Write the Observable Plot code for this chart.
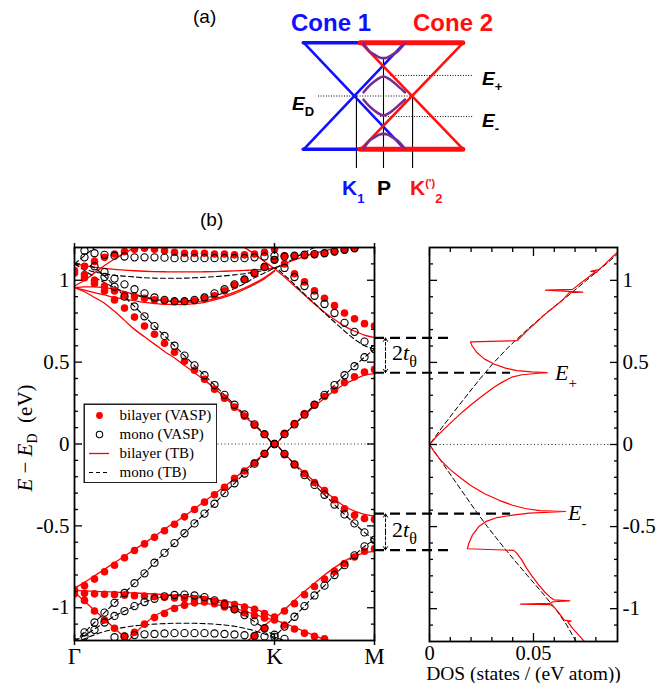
<!DOCTYPE html>
<html>
<head>
<meta charset="utf-8">
<script src="https://cdn.jsdelivr.net/npm/d3@7"></script>
<script src="https://cdn.jsdelivr.net/npm/@observablehq/plot@0.6"></script>
<style>
  html, body { margin: 0; padding: 0; background: white; }
  #root { position: relative; width: 667px; height: 683px; background: white; overflow: hidden; }
  #root > svg, #root > figure { position: absolute; margin: 0; }
  .lbl { position: absolute; line-height: 1; white-space: nowrap; }
</style>
</head>
<body>
<div id="root"></div>
<script>
// ---------------- DATA ----------------
// k path: Gamma = 0, K = 1, M = 1.5
const kGrid = [0,0.05,0.1,0.15,0.2,0.25,0.3,0.35,0.4,0.45,0.5,0.55,0.6,0.65,0.7,0.75,0.8,0.85,0.9,0.95,1,1.05,1.1,1.15,1.2,1.25,1.3,1.35,1.4,1.45,1.5];
const kTicks = [0, 1, 1.5];
const kTickLabels = ["Γ", "K", "M"];
const yMajor = [-1, -0.5, 0, 0.5, 1];
const yTickLabels = ["-1", "-0.5", "0", "0.5", "1"];
const yMinor = [-1.1,-0.9,-0.8,-0.7,-0.6,-0.4,-0.3,-0.2,-0.1,0.1,0.2,0.3,0.4,0.6,0.7,0.8,0.9,1.1];

// bilayer (VASP) – red dots
const bvDirUp = [1.045,1.015,0.98,0.935,0.88,0.83,0.775,0.72,0.67,0.615,0.56,0.505,0.45,0.395,0.335,0.28,0.225,0.17,0.115,0.058,0,0.065,0.125,0.185,0.24,0.29,0.33,0.375,0.41,0.44,0.455];
const bvMid = [1.06,1.035,1.0,0.965,0.935,0.91,0.9,0.89,0.88,0.875,0.87,0.87,0.875,0.89,0.905,0.935,0.97,1.005,1.04,1.085,1.125,1.1,1.04,0.99,0.935,0.89,0.845,0.8,0.765,0.735,0.72];
const bvTop = [null,1.085,1.115,1.14,1.16,1.175,1.19,1.195,1.19,1.18,1.17,1.165,1.165,1.165,1.16,1.16,1.155,1.155,1.16,1.17,1.19,1.15,1.145,1.15,1.155,1.165,1.175,1.185,1.195,null,null];
const bvDirDn = [-0.89,-0.865,-0.825,-0.78,-0.74,-0.695,-0.65,-0.61,-0.57,-0.53,-0.49,-0.445,-0.4,-0.355,-0.31,-0.265,-0.21,-0.165,-0.115,-0.058,0,-0.065,-0.125,-0.18,-0.235,-0.285,-0.34,-0.395,-0.435,-0.455,-0.46];
const bvFlat = [-0.915,-0.912,-0.915,-0.918,-0.92,-0.923,-0.926,-0.929,-0.932,-0.936,-0.94,-0.943,-0.946,-0.95,-0.96,-0.97,-0.98,-0.995,-1.01,-1.035,-1.057,-1.02,-0.975,-0.92,-0.87,-0.825,-0.778,-0.73,-0.69,-0.655,-0.64];
const bvRise = [null,null,null,null,null,null,-1.15,-1.1,-1.06,-1.035,-1.005,-0.985,-0.97,-0.965,-0.975,-0.995,-1.01,-1.03,-1.048,-1.063,-1.075,-1.105,-1.13,-1.155,-1.175,-1.19,null,null,null,null,null];
const bvCross = [null,-0.955,-1.02,-1.075,-1.125,-1.175,null,null,null,null,null,null,null,null,null,null,null,null,null,null,null,null,null,null,null,null,null,null,null,null,null];
const bvLowK = [null,null,null,null,null,null,null,null,null,null,null,null,null,null,null,null,null,null,-1.175,-1.125,null,null,null,null,null,null,null,null,null,null,null];

// mono (VASP) – open circles
const mvDirUp = [null,1.14,1.085,1.02,0.96,0.9,0.84,0.78,0.72,0.66,0.6,0.54,0.48,0.42,0.36,0.3,0.24,0.18,0.12,0.06,0,0.06,0.12,0.18,0.24,0.3,0.36,0.42,0.475,0.53,0.58];
const mvMid = [null,null,null,1.05,1.01,0.975,0.945,0.92,0.895,0.88,0.872,0.872,0.88,0.895,0.92,0.945,0.975,1.005,1.045,1.08,1.125,1.075,1.02,0.965,0.905,0.855,0.8,0.74,0.685,0.625,0.58];
const mvTop = [null,1.18,1.165,1.155,1.15,1.145,1.14,1.14,1.14,1.138,1.135,1.135,1.135,1.135,1.135,1.135,1.135,1.135,1.14,1.145,1.15,1.145,1.15,1.156,1.16,1.165,1.175,1.186,1.195,null,null];
const mvDirDn = [-1.21,-1.15,-1.09,-1.03,-0.97,-0.91,-0.85,-0.79,-0.725,-0.665,-0.605,-0.545,-0.485,-0.425,-0.365,-0.3,-0.24,-0.18,-0.12,-0.06,0,-0.06,-0.125,-0.19,-0.25,-0.31,-0.37,-0.43,-0.485,-0.54,-0.585];
const mvLow = [null,-1.175,-1.135,-1.09,-1.05,-1.02,-0.99,-0.965,-0.945,-0.93,-0.922,-0.92,-0.925,-0.935,-0.955,-0.98,-1.01,-1.045,-1.085,-1.125,-1.165,-1.115,-1.055,-0.99,-0.925,-0.865,-0.8,-0.74,-0.68,-0.625,-0.585];
const mvBot = [null,null,null,null,-1.18,-1.175,-1.167,-1.162,-1.16,-1.157,-1.155,-1.155,-1.155,-1.155,-1.157,-1.16,-1.163,-1.168,-1.172,-1.175,-1.178,-1.19,null,null,null,null,null,null,null,null,null];

// bilayer (TB) – red lines
const tbDirUp = [0.955,0.93,0.895,0.86,0.81,0.755,0.7,0.655,0.61,0.565,0.525,0.48,0.435,0.39,0.34,0.285,0.23,0.17,0.115,0.057,0,0.06,0.12,0.175,0.23,0.28,0.325,0.365,0.395,0.42,0.43];
const tbMidA = [0.955,0.94,0.925,0.91,0.895,0.885,0.875,0.865,0.858,0.853,0.852,0.853,0.857,0.865,0.88,0.897,0.918,0.945,0.975,1.01,1.055,null,null,null,null,null,null,null,null,null,null];
const tbMidB = [0.955,0.96,0.96,0.955,0.945,0.93,0.915,0.9,0.885,0.875,0.868,0.866,0.868,0.875,0.888,0.905,0.927,0.952,0.982,1.017,1.06,null,null,null,null,null,null,null,null,null,null];
const tbRiseUp = [0.965,1.0,1.045,1.09,1.13,1.165,1.2,1.235,null,null,null,null,null,null,null,null,null,null,null,null,null,null,null,null,null,null,null,null,null,null,null];
const tbFlatUp = [1.1,1.09,1.08,1.072,1.066,1.062,1.058,1.055,1.053,1.052,1.051,1.051,1.051,1.052,1.053,1.055,1.057,1.06,1.063,1.068,1.075,1.1,1.125,1.145,1.165,1.18,1.195,1.21,null,null,null];
const tbSteep = [null,null,null,null,null,null,null,null,null,null,null,null,null,null,null,null,1.24,1.2,1.16,1.115,1.07,1.02,0.965,0.91,0.855,0.805,0.76,0.72,0.69,0.665,0.65];
const tbDirDn = [-0.88,-0.845,-0.805,-0.765,-0.725,-0.685,-0.645,-0.605,-0.565,-0.52,-0.48,-0.44,-0.395,-0.35,-0.305,-0.26,-0.21,-0.16,-0.11,-0.055,0,-0.06,-0.12,-0.175,-0.23,-0.285,-0.335,-0.38,-0.41,-0.43,-0.44];
const tbFlatDn = [-0.895,-0.897,-0.9,-0.902,-0.905,-0.907,-0.91,-0.913,-0.916,-0.92,-0.925,-0.93,-0.935,-0.942,-0.95,-0.96,-0.972,-0.988,-1.007,-1.03,-1.057,-1.01,-0.955,-0.9,-0.85,-0.8,-0.755,-0.715,-0.685,-0.665,-0.655];
const tbRiseDn = [null,null,null,null,null,-1.23,-1.16,-1.1,-1.05,-1.02,-0.995,-0.98,-0.975,-0.975,-0.98,-0.99,-1.005,-1.02,-1.04,-1.06,-1.075,-1.095,-1.12,-1.145,-1.17,-1.195,-1.22,null,null,null,null];
const tbCross = [-0.905,-0.96,-1.015,-1.07,-1.125,-1.18,-1.235,null,null,null,null,null,null,null,null,null,null,null,null,null,null,null,null,null,null,null,null,null,null,null,null];
const tbLowK = [null,null,null,null,null,null,null,null,null,null,null,null,null,null,null,null,null,-1.22,-1.165,-1.11,-1.06,null,null,null,null,null,null,null,null,null,null];

// mono (TB) – dashed lines
const mtDirUp = [1.1,1.1,1.075,1.025,0.965,0.9,0.84,0.78,0.72,0.66,0.6,0.54,0.48,0.42,0.36,0.3,0.24,0.18,0.12,0.06,0,0.06,0.12,0.18,0.24,0.3,0.36,0.42,0.475,0.53,0.58];
const mtMid = [1.1,1.06,1.02,0.985,0.955,0.93,0.91,0.895,0.882,0.875,0.872,0.873,0.878,0.89,0.905,0.925,0.95,0.98,1.015,1.045,1.075,1.1,1.135,1.17,1.2,1.23,null,null,null,null,null];
const mtFlat = [1.1,1.07,1.05,1.04,1.03,1.025,1.02,1.015,1.013,1.012,1.012,1.013,1.015,1.018,1.022,1.027,1.033,1.04,1.05,1.06,1.075,1.03,0.975,0.915,0.86,0.8,0.745,0.69,0.64,0.6,0.58];
const mtRiseUp = [1.1,1.15,1.2,1.25,null,null,null,null,null,null,null,null,null,null,null,null,null,null,null,null,null,null,null,null,null,null,null,null,null,null,null];
const mtDirDn = [-1.21,-1.15,-1.09,-1.03,-0.97,-0.91,-0.85,-0.79,-0.725,-0.665,-0.605,-0.545,-0.485,-0.425,-0.365,-0.3,-0.24,-0.18,-0.12,-0.06,0,-0.06,-0.125,-0.19,-0.25,-0.31,-0.37,-0.43,-0.485,-0.54,-0.585];
const mtLow = [-1.2,-1.17,-1.13,-1.09,-1.05,-1.02,-0.99,-0.965,-0.945,-0.93,-0.922,-0.92,-0.925,-0.935,-0.955,-0.98,-1.01,-1.045,-1.085,-1.125,-1.165,-1.115,-1.055,-0.99,-0.925,-0.865,-0.8,-0.74,-0.68,-0.625,-0.585];
const mtBot = [-1.21,-1.19,-1.165,-1.145,-1.13,-1.12,-1.11,-1.105,-1.1,-1.097,-1.095,-1.095,-1.095,-1.097,-1.1,-1.105,-1.113,-1.125,-1.14,-1.16,-1.18,-1.2,-1.22,null,null,null,null,null,null,null,null];

// DOS, mono (TB) dashed
const dosMonoE = [-1.2,-1.1,-1.0,-0.9,-0.8,-0.7,-0.6,-0.5,-0.4,-0.3,-0.2,-0.1,0,0.1,0.2,0.3,0.4,0.5,0.6,0.7,0.8,0.9,1.0,1.1,1.2];
const dosMonoD = [0.0705,0.066,0.0605,0.054,0.0472,0.0405,0.034,0.0278,0.022,0.0165,0.011,0.0055,0,0.0058,0.0118,0.018,0.0243,0.031,0.0385,0.047,0.056,0.066,0.0755,0.085,0.094];
// DOS, bilayer (TB) red, in drawing order
const dosBiE = [-1.2,-1.12,-1.08,-1.075,-1.07,-1.03,-0.985,-0.975,-0.972,-0.968,-0.958,-0.952,-0.946,-0.93,-0.9,-0.85,-0.8,-0.75,-0.7,-0.66,-0.645,-0.635,-0.6,-0.55,-0.5,-0.47,-0.445,-0.43,-0.418,-0.408,-0.403,-0.39,-0.37,-0.34,-0.3,-0.25,-0.2,-0.15,-0.1,-0.05,0,0.05,0.1,0.15,0.2,0.25,0.3,0.35,0.38,0.41,0.425,0.434,0.438,0.442,0.45,0.465,0.49,0.52,0.56,0.6,0.625,0.632,0.7,0.8,0.88,0.925,0.928,0.933,0.94,0.945,1.0,1.04,1.05,1.055,1.065,1.1,1.15,1.2];
const dosBiD = [0.0745,0.0688,0.0665,0.0682,0.0648,0.0625,0.0595,0.0578,0.0438,0.0578,0.0595,0.0675,0.0598,0.058,0.0555,0.0522,0.0492,0.0465,0.0442,0.0418,0.0405,0.0182,0.019,0.0207,0.0237,0.027,0.0325,0.04,0.048,0.0654,0.053,0.046,0.04,0.0335,0.0265,0.0198,0.0145,0.0097,0.0057,0.0025,0,0.0035,0.0075,0.0117,0.016,0.0207,0.0258,0.0312,0.035,0.0395,0.0445,0.0525,0.0566,0.049,0.042,0.0365,0.031,0.0265,0.0228,0.0205,0.0197,0.0421,0.0475,0.0562,0.064,0.0672,0.0737,0.0668,0.0558,0.0688,0.0745,0.0785,0.0805,0.0775,0.0815,0.0845,0.0885,0.093];
const dosTickMajor = [0, 0.05];
const dosTickLabels = ["0", "0.05"];
const dosTickMinor = [0.01,0.02,0.03,0.04,0.06,0.07,0.08];

// 2t_theta gap levels (eV)
const gapShort = [0.648, -0.648];
const gapLong = [0.435, -0.425];
const gapMid = [0.5415, -0.5365];

// legend
const legendLabels = ["bilayer (VASP)", "mono (VASP)", "bilayer (TB)", "mono (TB)"];

// schematic (a): cone lines in (x, E) units
const coneBlue = [{x1:-2.8,y1:1,x2:0.75,y2:-1},{x1:0.75,y1:1,x2:-2.8,y2:-1}];
const coneRed = [{x1:-0.8,y1:1,x2:2.8,y2:-1},{x1:2.8,y1:1,x2:-0.8,y2:-1}];
const rimBlue = [{E:1,x1:-2.8,x2:0.75},{E:-1,x1:-2.8,x2:0.75}];
const rimRed = [{E:1,x1:-0.8,x2:2.8},{E:-1,x1:-0.8,x2:2.8}];
const purpleX = [-0.7,-0.5,-0.3,-0.15,0,0.15,0.3,0.5,0.75];
const purpleTop = [0.99,0.84,0.77,0.725,0.71,0.725,0.77,0.84,0.99];
const purpleUp = [0.07,0.19,0.28,0.335,0.365,0.335,0.28,0.19,0.07];
const purpleDn = [-0.07,-0.19,-0.28,-0.335,-0.365,-0.335,-0.28,-0.19,-0.07];
const purpleBot = [-0.99,-0.84,-0.77,-0.725,-0.71,-0.725,-0.77,-0.84,-0.99];
const schemLevels = [{E:0,x1:-2.28,x2:1.05},{E:0.385,x1:0.25,x2:3.15},{E:-0.385,x1:-0.1,x2:3.15}];
const schemVerticals = [{x:-0.95,E1:0,E2:-1.36},{x:0,E1:0.7,E2:-1.36},{x:1.02,E1:0,E2:-1.36}];

// ---------------- BUILD ----------------
const serif = "'Liberation Serif','Times New Roman',Times,serif";
const sans = "'Liberation Sans',Arial,Helvetica,sans-serif";
const root = document.getElementById("root");

function rows(name, values) {
  return values.map((E, i) => ({band: name, k: kGrid[i], E})).filter(d => d.E !== null);
}
const redDots = [].concat(rows("a", bvDirUp), rows("b", bvMid), rows("c", bvTop), rows("d", bvDirDn),
  rows("e", bvFlat), rows("f", bvRise), rows("g", bvCross), rows("h", bvLowK));
const openDots = [].concat(rows("a", mvDirUp), rows("b", mvMid), rows("c", mvTop), rows("d", mvDirDn),
  rows("e", mvLow), rows("f", mvBot));
const redLines = [].concat(rows("a", tbDirUp), rows("b", tbMidA), rows("c", tbMidB), rows("d", tbRiseUp),
  rows("e", tbFlatUp), rows("f", tbSteep), rows("g", tbDirDn), rows("h", tbFlatDn), rows("i", tbRiseDn),
  rows("j", tbCross), rows("k", tbLowK));
const dashLines = [].concat(rows("a", mtDirUp), rows("b", mtMid), rows("c", mtFlat), rows("d", mtRiseUp),
  rows("e", mtDirDn), rows("f", mtLow), rows("g", mtBot));

function place(el, left, top) {
  el.style.left = left + "px";
  el.style.top = top + "px";
  root.appendChild(el);
}
const noText = () => "";

// ---- schematic (a)
const schem = Plot.plot({
  width: 210, height: 200,
  marginLeft: 17.5, marginRight: 21.5, marginTop: 15.5, marginBottom: 24.5,
  x: {domain: [-3, 3], axis: null},
  y: {domain: [-1.5, 1.5], axis: null},
  style: {background: "transparent", overflow: "visible"},
  marks: [
    Plot.ruleX(schemVerticals, {x: "x", y1: "E1", y2: "E2", stroke: "black", strokeWidth: 1.1}),
    Plot.ruleY(schemLevels, {y: "E", x1: "x1", x2: "x2", stroke: "black", strokeWidth: 1, strokeDasharray: "1,1.6"}),
    Plot.link(coneBlue, {x1: "x1", y1: "y1", x2: "x2", y2: "y2", stroke: "#1010ff", strokeWidth: 2.6}),
    Plot.ruleY(rimBlue, {y: "E", x1: "x1", x2: "x2", stroke: "#1010ff", strokeWidth: 3.5, strokeLinecap: "round"}),
    Plot.link(coneRed, {x1: "x1", y1: "y1", x2: "x2", y2: "y2", stroke: "#ff1010", strokeWidth: 2.6}),
    Plot.ruleY(rimRed, {y: "E", x1: "x1", x2: "x2", stroke: "#ff1010", strokeWidth: 5, strokeLinecap: "round"}),
    Plot.line(purpleX, {x: d => d, y: (d, i) => purpleTop[i], stroke: "#7b2a8e", strokeWidth: 2.6, curve: "natural"}),
    Plot.line(purpleX, {x: d => d, y: (d, i) => purpleUp[i], stroke: "#7b2a8e", strokeWidth: 2.6, curve: "natural"}),
    Plot.line(purpleX, {x: d => d, y: (d, i) => purpleDn[i], stroke: "#7b2a8e", strokeWidth: 2.6, curve: "natural"}),
    Plot.line(purpleX, {x: d => d, y: (d, i) => purpleBot[i], stroke: "#7b2a8e", strokeWidth: 2.6, curve: "natural"})
  ]
});
place(schem, 280, 0);

// ---- DOS panel
const dosMono = dosMonoE.map((E, i) => ({E, D: dosMonoD[i]}));
const dosBi = dosBiE.map((E, i) => ({E, D: dosBiD[i]}));
const dos = Plot.plot({
  width: 267, height: 453,
  marginLeft: 29, marginRight: 50, marginTop: 17, marginBottom: 42,
  x: {domain: [0, 0.0904]},
  y: {domain: [-1.2, 1.2]},
  style: {background: "transparent", overflow: "visible", fontFamily: serif, color: "black"},
  marks: [
    Plot.ruleY([0], {stroke: "#333", strokeWidth: 1, strokeDasharray: "1,2.5"}),
    Plot.line(dosMono, {x: "D", y: "E", stroke: "black", strokeWidth: 1, strokeDasharray: "5,3", clip: true}),
    Plot.line(dosBi, {x: "D", y: "E", stroke: "red", strokeWidth: 1.2, clip: true}),
    Plot.frame({strokeWidth: 1.8}),
    Plot.axisX({ticks: dosTickMajor, anchor: "bottom", tickSize: 0, tickPadding: 4, fontSize: 20.5, label: null,
      tickFormat: d => dosTickLabels[dosTickMajor.indexOf(d)]}),
    Plot.axisX({ticks: dosTickMajor, anchor: "bottom", tickSize: -8, tickFormat: noText, label: null, strokeWidth: 1.3}),
    Plot.axisX({ticks: dosTickMinor, anchor: "bottom", tickSize: -4, tickFormat: noText, label: null, strokeWidth: 1.3}),
    Plot.axisX({ticks: dosTickMajor, anchor: "top", tickSize: -8, tickFormat: noText, label: null, strokeWidth: 1.3}),
    Plot.axisX({ticks: dosTickMinor, anchor: "top", tickSize: -4, tickFormat: noText, label: null, strokeWidth: 1.3}),
    Plot.axisY({ticks: yMajor, anchor: "right", tickSize: 0, tickPadding: 5, fontSize: 21, label: null,
      tickFormat: d => yTickLabels[yMajor.indexOf(d)]}),
    Plot.axisY({ticks: yMajor, anchor: "right", tickSize: -8, tickFormat: noText, label: null, strokeWidth: 1.3}),
    Plot.axisY({ticks: yMinor, anchor: "right", tickSize: -4, tickFormat: noText, label: null, strokeWidth: 1.3}),
    Plot.axisY({ticks: yMajor, anchor: "left", tickSize: -8, tickFormat: noText, label: null, strokeWidth: 1.3}),
    Plot.axisY({ticks: yMinor, anchor: "left", tickSize: -4, tickFormat: noText, label: null, strokeWidth: 1.3}),
    Plot.text(["DOS (states / (eV atom))"], {frameAnchor: "bottom", lineAnchor: "middle", dy: 32.5, fontSize: 19.5})
  ]
});
place(dos, 400, 230);

// ---- band panel
const band = Plot.plot({
  width: 540, height: 453,
  marginLeft: 74, marginRight: 166, marginTop: 17, marginBottom: 43,
  x: {domain: [0, 1.5]},
  y: {domain: [-1.2, 1.2]},
  style: {background: "transparent", overflow: "visible", fontFamily: serif, color: "black"},
  marks: [
    Plot.ruleY([0], {stroke: "#333", strokeWidth: 1, strokeDasharray: "1,2.5"}),
    Plot.line(redLines, {x: "k", y: "E", z: "band", stroke: "red", strokeWidth: 1.3, curve: "monotone-x", clip: true}),
    Plot.line(dashLines, {x: "k", y: "E", z: "band", stroke: "black", strokeWidth: 1.1, strokeDasharray: "5,3", curve: "monotone-x", clip: true}),
    Plot.dot(redDots, {x: "k", y: "E", r: 3.8, fill: "red", clip: true}),
    Plot.dot(openDots, {x: "k", y: "E", r: 3.6, stroke: "black", strokeWidth: 1.1, fill: "none", clip: true}),
    Plot.frame({strokeWidth: 1.8}),
    Plot.axisY({ticks: yMajor, anchor: "left", tickSize: 0, tickPadding: 5, fontSize: 21, label: null,
      tickFormat: d => yTickLabels[yMajor.indexOf(d)]}),
    Plot.axisY({ticks: yMajor, anchor: "left", tickSize: -8, tickFormat: noText, label: null, strokeWidth: 1.3}),
    Plot.axisY({ticks: yMinor, anchor: "left", tickSize: -4, tickFormat: noText, label: null, strokeWidth: 1.3}),
    Plot.axisY({ticks: yMajor, anchor: "right", tickSize: -8, tickFormat: noText, label: null, strokeWidth: 1.3}),
    Plot.axisY({ticks: yMinor, anchor: "right", tickSize: -4, tickFormat: noText, label: null, strokeWidth: 1.3}),
    Plot.axisX({ticks: kTicks, anchor: "bottom", tickSize: 0, tickPadding: 7, fontSize: 23, label: null,
      tickFormat: d => kTickLabels[kTicks.indexOf(d)]}),
    Plot.axisX({ticks: kTicks, anchor: "bottom", tickSize: 5, tickFormat: noText, label: null, strokeWidth: 1.5}),
    Plot.axisX({ticks: kTicks, anchor: "bottom", tickSize: -6, tickFormat: noText, label: null, strokeWidth: 1.5}),
    Plot.axisX({ticks: kTicks, anchor: "top", tickSize: 5, tickFormat: noText, label: null, strokeWidth: 1.5}),
    Plot.axisX({ticks: kTicks, anchor: "top", tickSize: -6, tickFormat: noText, label: null, strokeWidth: 1.5}),
    // 2 t_theta annotation
    Plot.ruleY(gapShort, {x1: 1.5, x2: 1.895, stroke: "black", strokeWidth: 2.2, strokeDasharray: "10,6"}),
    Plot.ruleY(gapLong, {x1: 1.5, x2: 2.18, stroke: "black", strokeWidth: 2.2, strokeDasharray: "10,6"}),
    Plot.arrow([0, 1, 2, 3], {x1: 1.555, x2: 1.555,
      y1: i => gapMid[i < 2 ? 0 : 1],
      y2: i => [gapShort[0], gapLong[0], gapLong[1], gapShort[1]][i],
      stroke: "black", strokeWidth: 1, strokeDasharray: "3,2", headLength: 6})
  ]
});
place(band, 0, 230);

// ---- legend
const legend = Plot.plot({
  width: 134, height: 80, margin: 0,
  x: {domain: [0, 134], axis: null},
  y: {type: "point", domain: legendLabels, range: [12, 69], padding: 0, axis: null},
  style: {background: "transparent", fontFamily: serif, color: "black"},
  marks: [
    Plot.frame({fill: "white", stroke: "black", strokeWidth: 1.3, inset: 0.7}),
    Plot.dot([legendLabels[0]], {x: 16, y: d => d, r: 3.4, fill: "red"}),
    Plot.dot([legendLabels[1]], {x: 16, y: d => d, r: 3.2, stroke: "black", strokeWidth: 1.1, fill: "none"}),
    Plot.ruleY([legendLabels[2]], {y: d => d, x1: 6, x2: 26, stroke: "red", strokeWidth: 1.3}),
    Plot.ruleY([legendLabels[3]], {y: d => d, x1: 6, x2: 26, stroke: "black", strokeWidth: 1.1, strokeDasharray: "4,3"}),
    Plot.text(legendLabels, {x: 36, y: d => d, textAnchor: "start", fontSize: 15})
  ]
});
place(legend, 83, 403);

// ---- text labels
function label(html, left, baseline, size, family, extra) {
  const d = document.createElement("div");
  d.className = "lbl";
  d.innerHTML = html;
  d.style.cssText += `font-size:${size}px;font-family:${family};${extra || ""}`;
  place(d, left, baseline - 0.84 * size);
  return d;
}
const sub = (t, s, dy) => `<span style="font-size:${s}px;position:relative;top:${dy}px;font-style:normal">${t}</span>`;

label("(a)", 193, 23, 19, sans);
label("(b)", 200, 226, 19, sans);
label("Cone 1", 291, 31.5, 24, sans, "font-weight:bold;color:#1010ff");
label("Cone 2", 413, 31.5, 24, sans, "font-weight:bold;color:#ff1010");
label("<i>E</i>" + sub("D", 13, 6), 292, 110, 19, sans, "font-weight:bold");
label("<i>E</i>" + sub("+", 13, 6), 482, 85, 19, sans, "font-weight:bold");
label("<i>E</i>" + sub("-", 13, 6), 482, 126.5, 19, sans, "font-weight:bold");
label("K" + sub("1", 13, 8), 342, 195, 21, sans, "font-weight:bold;color:#1010ff");
label("P", 377, 195, 21, sans, "font-weight:bold");
label("K" + sub("(')", 11, -8) + sub("2", 13, 8), 410, 195, 21, sans, "font-weight:bold;color:#ff1010");

label("2<i>t</i>" + sub("θ", 16, 7), 392, 360, 22, serif);
label("2<i>t</i>" + sub("θ", 16, 7), 392, 537, 22, serif);
label("<i>E</i>" + sub("+", 15, 8), 555, 380, 22, serif);
label("<i>E</i>" + sub("-", 15, 8), 568, 520, 22, serif);

const ylab = document.createElement("div");
ylab.className = "lbl";
ylab.innerHTML = "<i>E</i> − <i>E</i>" + sub("D", 14, 5) + "&nbsp; (eV)";
ylab.style.cssText += `font-size:21px;font-family:${serif};transform:translate(-50%,-50%) rotate(-90deg);`;
place(ylab, 25, 438);
</script>
</body>
</html>
